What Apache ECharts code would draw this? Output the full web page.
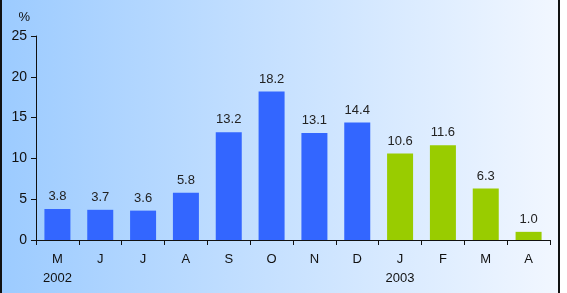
<!DOCTYPE html>
<html>
<head>
<meta charset="utf-8">
<script src="https://cdn.jsdelivr.net/npm/echarts@6/dist/echarts.min.js"></script>
<style>
  html, body { margin: 0; padding: 0; background: #fff; }
  #chart { width: 567px; height: 293px; }
</style>
</head>
<body>
<div id="chart"></div>
<script>
var months = ['M', 'J', 'J', 'A', 'S', 'O', 'N', 'D', 'J', 'F', 'M', 'A'];
var years = ['2002', '', '', '', '', '', '', '', '2003', '', '', ''];
var values2002 = [3.8, 3.7, 3.6, 5.8, 13.2, 18.2, 13.1, 14.4];
var values2003 = [10.6, 11.6, 6.3, 1.0];
var yTicks = [0, 5, 10, 15, 20, 25];

var categories = months.map(function (m, i) {
    return years[i] ? m + '\n' + years[i] : m;
});
var blueData = [], greenData = [];
for (var i = 0; i < months.length; i++) {
    blueData.push(i < values2002.length ? values2002[i] : '-');
    greenData.push(i >= values2002.length ? values2003[i - values2002.length] : '-');
}

var myChart = echarts.init(document.getElementById('chart'));

var barLabel = {
    show: true,
    position: 'top',
    distance: 6,
    color: '#222',
    fontSize: 13,
    fontFamily: 'Liberation Sans, Arial, sans-serif',
    formatter: function (p) { return p.value.toFixed(1); }
};

myChart.setOption({
    animation: false,
    graphic: [{
        type: 'rect',
        z: -10,
        silent: true,
        shape: { x: 1, y: -5, width: 558, height: 305 },
        style: {
            fill: new echarts.graphic.LinearGradient(0, 0, 1, 0, [
                { offset: 0, color: '#9ccbff' },
                { offset: 1, color: '#f2f7ff' }
            ]),
            stroke: '#111',
            lineWidth: 2
        }
    }],
    grid: { left: 36, right: 17, top: 36, bottom: 53 },
    xAxis: {
        type: 'category',
        data: categories,
        axisLine: { lineStyle: { color: '#111', width: 1 } },
        axisTick: { show: true, length: 5, lineStyle: { color: '#111' } },
        axisLabel: {
            color: '#111',
            fontSize: 13,
            fontFamily: 'Liberation Sans, Arial, sans-serif',
            lineHeight: 19,
            margin: 10
        }
    },
    yAxis: {
        type: 'value',
        min: yTicks[0],
        max: yTicks[yTicks.length - 1],
        interval: 5,
        name: '%',
        nameLocation: 'end',
        nameGap: 12,
        nameTextStyle: {
            color: '#111',
            fontSize: 13,
            fontFamily: 'Liberation Sans, Arial, sans-serif',
            align: 'right',
            padding: [0, 6, 0, 0]
        },
        axisLine: { show: true, lineStyle: { color: '#111', width: 1 } },
        axisTick: { show: true, length: 5, lineStyle: { color: '#111' } },
        splitLine: { show: false },
        axisLabel: {
            color: '#111',
            fontSize: 14,
            fontFamily: 'Liberation Sans, Arial, sans-serif',
            margin: 9
        }
    },
    series: [{
        type: 'bar',
        data: blueData,
        barWidth: 26,
        barGap: '-100%',
        itemStyle: { color: '#3366ff' },
        label: barLabel
    }, {
        type: 'bar',
        data: greenData,
        barWidth: 26,
        itemStyle: { color: '#99cc00' },
        label: barLabel
    }]
});
</script>
</body>
</html>
